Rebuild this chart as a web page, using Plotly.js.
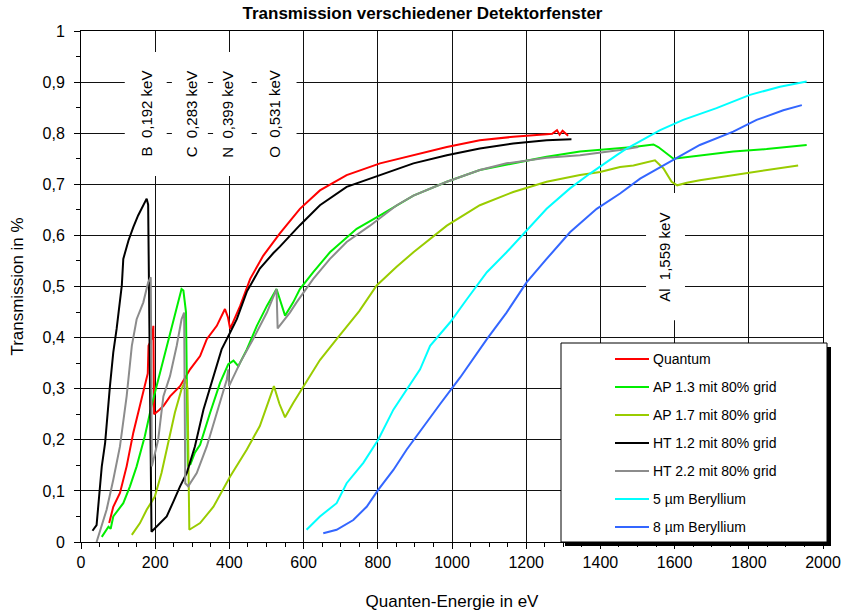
<!DOCTYPE html>
<html><head><meta charset="utf-8">
<script src="https://cdn.plot.ly/plotly-3.0.1.min.js"></script>
<style>html,body{margin:0;padding:0;background:#fff}</style>
</head><body>
<div id="chart" style="width:845px;height:614px"></div>
<script>
// ---- data ----
const seriesNames = ['Quantum', 'AP 1.3 mit 80% grid', 'AP 1.7 mit 80% grid', 'HT 1.2 mit 80% grid', 'HT 2.2 mit 80% grid', '5 µm Beryllium', '8 µm Beryllium'];
const seriesColors = ['#FF0000', '#00EE00', '#99CC00', '#000000', '#8C8C8C', '#00FFFF', '#3366FF'];

const quantumE = [76,87,105,123,141,159,172,180,182,192,195,197,210,222,240,267,294,321,339,366,388,396,402,429,456,491,536,590,644,716,806,896,986,1075,1165,1255,1270,1283,1290,1298,1313];
const quantumT = [0.037,0.069,0.096,0.148,0.214,0.266,0.305,0.33,0.384,0.40,0.423,0.25,0.258,0.266,0.285,0.305,0.338,0.364,0.397,0.423,0.456,0.44,0.417,0.462,0.515,0.56,0.604,0.652,0.688,0.718,0.741,0.757,0.773,0.786,0.793,0.798,0.799,0.806,0.797,0.805,0.795];

const ap13E = [56,74,80,87,114,132,150,172,190,213,231,249,267,271,276,283,288,295,307,321,348,375,397,411,424,447,474,501,527,550,572,590,626,671,743,806,896,986,1075,1165,1255,1345,1435,1489,1543,1556,1597,1619,1668,1758,1848,1956];
const ap13T = [0.01,0.03,0.026,0.05,0.076,0.109,0.148,0.207,0.266,0.331,0.384,0.436,0.489,0.495,0.492,0.45,0.15,0.152,0.175,0.19,0.253,0.312,0.348,0.355,0.344,0.377,0.423,0.462,0.495,0.443,0.469,0.495,0.528,0.567,0.613,0.639,0.678,0.705,0.728,0.741,0.754,0.764,0.769,0.773,0.778,0.773,0.75,0.752,0.757,0.764,0.769,0.777];

const ap17E = [137,159,177,199,217,235,253,271,283,287,292,321,357,402,447,482,520,535,550,572,595,617,644,689,750,797,850,896,986,1075,1165,1255,1345,1399,1453,1489,1547,1570,1592,1607,1633,1668,1758,1848,1933];
const ap17T = [0.014,0.037,0.063,0.089,0.135,0.194,0.253,0.299,0.318,0.30,0.024,0.037,0.069,0.128,0.181,0.227,0.305,0.27,0.244,0.272,0.299,0.324,0.356,0.397,0.452,0.502,0.538,0.567,0.619,0.659,0.685,0.705,0.718,0.724,0.734,0.737,0.747,0.731,0.705,0.698,0.703,0.708,0.718,0.728,0.737];

const ht12E = [31,42,56,65,78,87,96,110,114,128,141,154,177,181,190,204,231,249,267,285,307,330,357,379,402,420,447,482,518,536,590,644,716,806,896,986,1075,1165,1255,1322];
const ht12T = [0.022,0.033,0.148,0.194,0.305,0.371,0.417,0.502,0.554,0.59,0.616,0.639,0.672,0.66,0.02,0.03,0.05,0.079,0.109,0.135,0.187,0.259,0.325,0.377,0.41,0.436,0.49,0.535,0.565,0.578,0.62,0.659,0.695,0.718,0.741,0.757,0.770,0.78,0.786,0.788];

const ht22E = [42,69,87,105,123,137,150,168,181,188,191,208,222,240,258,271,278,281,289,312,339,366,393,397,399,429,464,501,527,530,563,581,626,671,716,779,851,896,986,1075,1147,1255,1345,1453,1502];
const ht22T = [0.0,0.063,0.122,0.187,0.285,0.384,0.436,0.469,0.508,0.518,0.148,0.2,0.285,0.325,0.384,0.436,0.449,0.115,0.109,0.135,0.187,0.253,0.318,0.338,0.305,0.351,0.397,0.449,0.495,0.418,0.449,0.469,0.515,0.554,0.587,0.619,0.659,0.678,0.705,0.728,0.741,0.752,0.757,0.767,0.773];

const be5E = [608,644,689,716,761,801,842,878,914,941,995,1040,1094,1147,1197,1255,1318,1372,1444,1471,1561,1623,1713,1803,1884,1956];
const be5T = [0.024,0.05,0.076,0.115,0.155,0.2,0.259,0.299,0.338,0.384,0.43,0.475,0.528,0.567,0.606,0.652,0.692,0.721,0.757,0.77,0.806,0.826,0.849,0.875,0.891,0.901];

const be8E = [653,689,734,770,801,842,878,914,968,1022,1094,1147,1201,1255,1318,1390,1453,1507,1579,1668,1758,1821,1893,1943];
const be8T = [0.017,0.024,0.043,0.069,0.102,0.141,0.181,0.217,0.27,0.322,0.397,0.449,0.508,0.554,0.606,0.652,0.682,0.711,0.741,0.777,0.803,0.826,0.845,0.855];

const edgeLabels = ['B  0,192 keV', 'C  0,283 keV', 'N  0,399 keV', 'O  0,531 keV'];
const edgeLabelE = [177, 298, 396, 523];
const alLabel = 'Al  1,559 keV';
const alLabelE = 1574;

const xTitle = 'Quanten-Energie in eV';
const yTitle = 'Transmission in %';
const chartTitle = 'Transmission verschiedener Detektorfenster';

// ---- build ----
const FONT = 'Liberation Sans, Arial, sans-serif';
const seriesE = [quantumE, ap13E, ap17E, ht12E, ht22E, be5E, be8E];
const seriesT = [quantumT, ap13T, ap17T, ht12T, ht22T, be5T, be8T];

const traces = seriesNames.map((n, i) => ({
  type: 'scatter', mode: 'lines', name: n,
  x: seriesE[i], y: seriesT[i],
  line: {color: seriesColors[i], width: 2},
  showlegend: false, hoverinfo: 'skip'
}));

// plot area in pixels
const PL = 81, PR = 823, PT = 31, PB = 542;
const xp = px => (px - PL) / (PR - PL);
const yp = py => (PB - py) / (PB - PT);

const shapes = [];
const annotations = [];

// white boxes behind the edge labels (cover grid lines)
const edgeBoxes = [[118, 231], [245, 342], [356, 460], [474, 581]];
edgeBoxes.forEach(b => shapes.push({type: 'rect', xref: 'x', yref: 'y', x0: b[0], x1: b[1], y0: 0.716, y1: 0.959,
  fillcolor: '#ffffff', line: {width: 0}, layer: 'between'}));
shapes.push({type: 'rect', xref: 'x', yref: 'y', x0: 1523, x1: 1628, y0: 0.434, y1: 0.683,
  fillcolor: '#ffffff', line: {width: 0}, layer: 'between'});

edgeLabels.forEach((t, i) => annotations.push({text: t, x: edgeLabelE[i], y: 0.838, xref: 'x', yref: 'y',
  showarrow: false, textangle: -90, font: {family: FONT, size: 15, color: '#000'}}));
annotations.push({text: alLabel, x: alLabelE, y: 0.558, xref: 'x', yref: 'y',
  showarrow: false, textangle: -90, font: {family: FONT, size: 15, color: '#000'}});

// legend (drawn as a box with shadow)
const LL = 561, LR = 827, LT = 343, LB = 542, SH = 4;
shapes.push({type: 'rect', xref: 'paper', yref: 'paper', x0: xp(LL + SH), x1: xp(LR + SH), y0: yp(LB + SH), y1: yp(LT + SH),
  fillcolor: '#000', line: {width: 0}, layer: 'above'});
shapes.push({type: 'rect', xref: 'paper', yref: 'paper', x0: xp(LL), x1: xp(LR), y0: yp(LB), y1: yp(LT),
  fillcolor: '#fff', line: {color: '#000', width: 1}, layer: 'above'});
seriesNames.forEach((n, i) => {
  const yc = 359 + i * 28;
  shapes.push({type: 'line', xref: 'paper', yref: 'paper', x0: xp(615), x1: xp(649), y0: yp(yc), y1: yp(yc),
    line: {color: seriesColors[i], width: 2}, layer: 'above'});
  annotations.push({text: n, xref: 'paper', yref: 'paper', x: xp(651), y: yp(yc), xanchor: 'left', yanchor: 'middle',
    showarrow: false, font: {family: FONT, size: 14, color: '#000'}});
});

const layout = {
  width: 845, height: 614,
  margin: {l: PL, r: 845 - PR, t: PT, b: 614 - PB, pad: 0},
  paper_bgcolor: '#fff', plot_bgcolor: '#fff',
  separators: ', ',
  font: {family: FONT, color: '#000', size: 16},
  title: {text: '<b>' + chartTitle + '</b>', font: {family: FONT, size: 17, color: '#000'},
    xref: 'container', x: 0.5, xanchor: 'center', yref: 'container', y: 1 - 13 / 614, yanchor: 'middle'},
  showlegend: false,
  xaxis: {
    range: [0, 2000], tick0: 0, dtick: 200, showgrid: true, gridcolor: '#111', gridwidth: 1,
    zeroline: false, showline: true, linecolor: '#000', linewidth: 1, mirror: true,
    ticks: 'outside', ticklen: 6, tickcolor: '#000', tickwidth: 1,
    tickfont: {family: FONT, size: 16, color: '#000'},
    minor: {dtick: 50, ticks: 'outside', ticklen: 4, tickcolor: '#000', showgrid: false},
    title: {text: xTitle, font: {family: FONT, size: 17, color: '#000'}, standoff: 24}
  },
  yaxis: {
    range: [0, 1], tick0: 0, dtick: 0.1, showgrid: true, gridcolor: '#111', gridwidth: 1,
    zeroline: false, showline: true, linecolor: '#000', linewidth: 1, mirror: true,
    ticks: 'outside', ticklen: 6, tickcolor: '#000', tickwidth: 1,
    tickfont: {family: FONT, size: 16, color: '#000'},
    ticklabelstandoff: 6,
    minor: {dtick: 0.05, ticks: 'outside', ticklen: 4, tickcolor: '#000', showgrid: false},
    title: {text: yTitle, font: {family: FONT, size: 17, color: '#000'}, standoff: 14}
  },
  shapes: shapes,
  annotations: annotations
};

Plotly.newPlot('chart', traces, layout, {displayModeBar: false, staticPlot: true});
</script>
</body></html>
